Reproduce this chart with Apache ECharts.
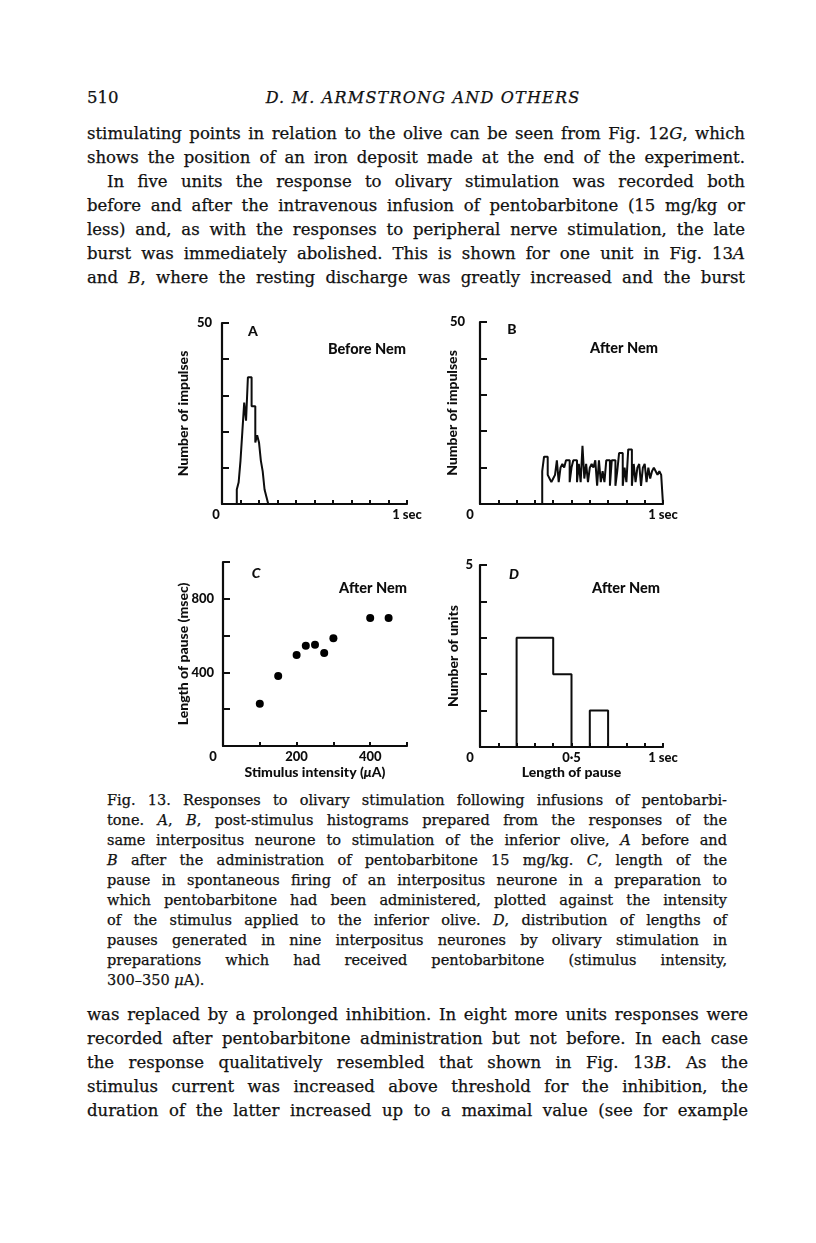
<!DOCTYPE html>
<html>
<head>
<meta charset="utf-8">
<script src="https://cdn.jsdelivr.net/npm/echarts@6/dist/echarts.min.js"></script>
<style>
  html, body { margin: 0; padding: 0; background: #fff; }
  #page { position: relative; width: 816px; height: 1243px; overflow: hidden; color: #111; font-family: "DejaVu Serif", serif; -webkit-text-stroke: 0.25px #111; }
  .blk { position: absolute; }
  .ln { white-space: nowrap; text-align: justify; text-align-last: justify; }
  .ln.last { text-align-last: left; }
  .body .ln { font-size: 16.5px; line-height: 24px; height: 24px; }
  .cap .ln { font-size: 14.5px; line-height: 20px; height: 20px; }
  .panel { position: absolute; }
</style>
</head>
<body>
<div id="page">
  <div class="blk" style="left:87px; top:86px; font-size:16.5px; line-height:24px;">510</div>
  <div class="blk" style="left:0; width:846px; top:86px; text-align:center; font-size:16px; line-height:24px; font-style:italic; letter-spacing:1.2px;">D. M. ARMSTRONG AND OTHERS</div>

  <div class="blk body" style="left:87px; top:122px; width:658px;">
    <div class="ln">stimulating points in relation to the olive can be seen from Fig. 12<i>G</i>, which</div>
    <div class="ln">shows the position of an iron deposit made at the end of the experiment.</div>
    <div class="ln" style="padding-left:20px;">In five units the response to olivary stimulation was recorded both</div>
    <div class="ln">before and after the intravenous infusion of pentobarbitone (15 mg/kg or</div>
    <div class="ln">less) and, as with the responses to peripheral nerve stimulation, the late</div>
    <div class="ln">burst was immediately abolished. This is shown for one unit in Fig. 13<i>A</i></div>
    <div class="ln">and <i>B</i>, where the resting discharge was greatly increased and the burst</div>
  </div>

  <div id="panelA" class="panel" style="left:160px; top:310px; width:265px; height:215px;"></div>
  <div id="panelB" class="panel" style="left:420px; top:310px; width:265px; height:215px;"></div>
  <div id="panelC" class="panel" style="left:160px; top:550px; width:265px; height:240px;"></div>
  <div id="panelD" class="panel" style="left:420px; top:550px; width:265px; height:240px;"></div>

  <div class="blk cap" style="left:107px; top:790px; width:620px;">
    <div class="ln">Fig. 13. Responses to olivary stimulation following infusions of pentobarbi-</div>
    <div class="ln">tone. <i>A</i>, <i>B</i>, post-stimulus histograms prepared from the responses of the</div>
    <div class="ln">same interpositus neurone to stimulation of the inferior olive, <i>A</i> before and</div>
    <div class="ln"><i>B</i> after the administration of pentobarbitone 15 mg/kg. <i>C</i>, length of the</div>
    <div class="ln">pause in spontaneous firing of an interpositus neurone in a preparation to</div>
    <div class="ln">which pentobarbitone had been administered, plotted against the intensity</div>
    <div class="ln">of the stimulus applied to the inferior olive. <i>D</i>, distribution of lengths of</div>
    <div class="ln">pauses generated in nine interpositus neurones by olivary stimulation in</div>
    <div class="ln">preparations which had received pentobarbitone (stimulus intensity,</div>
    <div class="ln last">300–350 <i>μ</i>A).</div>
  </div>

  <div class="blk body" style="left:87px; top:1003px; width:661px;">
    <div class="ln">was replaced by a prolonged inhibition. In eight more units responses were</div>
    <div class="ln">recorded after pentobarbitone administration but not before. In each case</div>
    <div class="ln">the response qualitatively resembled that shown in Fig. 13<i>B</i>. As the</div>
    <div class="ln">stimulus current was increased above threshold for the inhibition, the</div>
    <div class="ln">duration of the latter increased up to a maximal value (see for example</div>
  </div>
</div>

<script>
// post-stimulus histograms, 10 msec bins
var binSec = 0.01;
var beforeStartSec = 0.08;
var beforeCounts = [4, 6, 12, 20, 28, 23, 35, 35, 27, 27, 17, 19, 17, 12, 9, 4, 2];
var afterStartSec = 0.34;
var afterCounts = [
  9, 13, 13, 8, 7, 6, 7, 8, 12, 6,
  10, 11, 10, 12, 12, 6, 10, 12, 12, 6,
  11, 6, 16, 7, 11, 6, 10, 11, 10, 12,
  5, 12, 6, 9, 6, 12, 12, 5, 12, 12,
  5, 9, 14, 14, 5, 10, 6, 15, 15, 5,
  11, 6, 10, 11, 5, 10, 11, 6, 10, 7,
  9, 10, 9, 8, 9, 8
];

// C: pause length vs stimulus intensity
var stimulusUA = [100, 150, 200, 225, 250, 275, 300, 400, 450];
var pauseMsec = [230, 380, 495, 545, 550, 505, 585, 695, 695];

// D: distribution of pause lengths, 0.1 sec bins
var pauseBinSec = 0.1;
var pauseStartSec = 0.2;
var unitCounts = [3, 3, 2, 0, 1];

// tick labels that are printed (all other ticks are bare)
var secTickValues = [0, 1];
var secTickText = ['0', '1 sec'];
var pauseTickValues = [0, 0.5, 1];
var pauseTickText = ['0', '0·5', '1 sec'];
var stimTickValues = [0, 200, 400];
var stimTickText = ['0', '200', '400'];
var impulseTickValues = [50];
var pauseMsecTickValues = [400, 800];
var unitTickValues = [5];

(function () {
  'use strict';

  var INK = '#0d0d0d';
  var FONT = 'Lato, "Open Sans", sans-serif';

  function stepPoints(start, width, counts) {
    var pts = [[start, 0]];
    counts.forEach(function (c, i) { pts.push([start + i * width, c]); });
    pts.push([start + counts.length * width, 0]);
    return pts;
  }

  function near(a, b) { return Math.abs(a - b) < 1e-6; }

  function tickFormatter(values, texts) {
    return function (v) {
      for (var i = 0; i < values.length; i++) {
        if (near(v, values[i])) {
          var t = texts ? texts[i] : String(values[i]);
          return near(v, 0) ? '{z|' + t + '}' : t;
        }
      }
      return '';
    };
  }

  function xAxisFor(cfg) {
    return {
      type: 'value',
      min: 0,
      max: cfg.xMax,
      interval: cfg.xStep,
      name: cfg.xName || '',
      nameLocation: 'middle',
      nameGap: cfg.xNameGap || 18,
      nameMoveOverlap: false,
      nameTextStyle: { color: INK, fontFamily: FONT, fontWeight: 900, fontSize: 14,
        rich: { i: { fontStyle: 'italic', color: INK, fontFamily: FONT, fontWeight: 900, fontSize: 14 } } },
      axisLine: { show: true, onZero: false, lineStyle: { color: INK, width: 2.2 } },
      axisTick: { show: true, inside: true, length: 4, lineStyle: { color: INK, width: 2 } },
      splitLine: { show: false },
      axisLabel: {
        show: true,
        margin: 4,
        showMinLabel: true,
        showMaxLabel: true,
        hideOverlap: false,
        color: INK,
        fontFamily: FONT,
        fontWeight: 900,
        fontSize: 13,
        formatter: tickFormatter(cfg.xTicks, cfg.xTickText),
        rich: { z: { padding: [0, cfg.zeroShift * 2, 0, 0], color: INK, fontFamily: FONT, fontWeight: 900, fontSize: 13 } }
      }
    };
  }

  function yAxisFor(cfg) {
    return {
      type: 'value',
      min: 0,
      max: cfg.yMax,
      interval: cfg.yStep,
      name: cfg.yName,
      nameLocation: 'middle',
      nameRotate: 90,
      nameGap: cfg.yNameGap,
      nameMoveOverlap: false,
      nameTextStyle: { color: INK, fontFamily: FONT, fontWeight: 900, fontSize: 14 },
      axisLine: { show: true, onZero: false, lineStyle: { color: INK, width: 2.2 } },
      axisTick: { show: true, inside: true, length: 7, lineStyle: { color: INK, width: 2 } },
      splitLine: { show: false },
      axisLabel: {
        show: true,
        margin: cfg.yLabelMargin,
        showMinLabel: true,
        showMaxLabel: true,
        color: INK,
        fontFamily: FONT,
        fontWeight: 900,
        fontSize: 13,
        formatter: function (v) {
          return cfg.yTicks.some(function (t) { return near(v, t); }) ? String(v) : '';
        }
      }
    };
  }

  function panelText(cfg) {
    return [
      {
        type: 'text', x: cfg.letterAt[0], y: cfg.letterAt[1],
        style: { text: cfg.letter, fill: INK, align: 'center', verticalAlign: 'middle',
          font: (cfg.letterItalic ? 'italic ' : '') + '900 14px ' + FONT }
      },
      {
        type: 'text', x: cfg.tagAt[0], y: cfg.tagAt[1],
        style: { text: cfg.tag, fill: INK, align: 'center', verticalAlign: 'middle',
          font: '900 14.5px ' + FONT }
      }
    ];
  }

  /* ── Step-outline histogram (A, B, D) ── */
  function initHistogram(el, cfg) {
    if (!el || !window.echarts) { return; }
    var chart = echarts.init(el);
    chart.setOption({
      animation: false,
      grid: cfg.grid,
      xAxis: xAxisFor(cfg),
      yAxis: yAxisFor(cfg),
      graphic: panelText(cfg),
      series: [{
        type: 'line',
        step: 'end',
        showSymbol: false,
        data: stepPoints(cfg.start, cfg.binWidth, cfg.counts),
        lineStyle: { color: INK, width: 2 },
        z: 1
      }]
    });
  }

  /* ── Scatter: pause length against stimulus (C) ── */
  function initScatter(el, cfg) {
    if (!el || !window.echarts) { return; }
    var chart = echarts.init(el);
    chart.setOption({
      animation: false,
      grid: cfg.grid,
      xAxis: xAxisFor(cfg),
      yAxis: yAxisFor(cfg),
      graphic: panelText(cfg),
      series: [{
        type: 'scatter',
        symbol: 'circle',
        symbolSize: 8,
        itemStyle: { color: '#000', opacity: 1 },
        data: cfg.xs.map(function (x, i) { return [x, cfg.ys[i]]; })
      }]
    });
  }

  initHistogram(document.getElementById('panelA'), {
    grid: { left: 62, top: 13, width: 185, height: 181 },
    start: beforeStartSec, binWidth: binSec, counts: beforeCounts,
    xMax: 1, xStep: 0.1, xTicks: secTickValues, xTickText: secTickText, zeroShift: 6,
    yMax: 50, yStep: 10, yTicks: impulseTickValues, yLabelMargin: 10,
    yName: 'Number of impulses', yNameGap: 32,
    letter: 'A', letterAt: [93, 21], tag: 'Before Nem', tagAt: [207, 39]
  });

  initHistogram(document.getElementById('panelB'), {
    grid: { left: 60, top: 12, width: 183, height: 182 },
    start: afterStartSec, binWidth: binSec, counts: afterCounts,
    xMax: 1, xStep: 0.1, xTicks: secTickValues, xTickText: secTickText, zeroShift: 10,
    yMax: 50, yStep: 10, yTicks: impulseTickValues, yLabelMargin: 15,
    yName: 'Number of impulses', yNameGap: 21,
    letter: 'B', letterAt: [92, 19], tag: 'After Nem', tagAt: [204, 38]
  });

  initScatter(document.getElementById('panelC'), {
    grid: { left: 63, top: 12, width: 184, height: 184 },
    xs: stimulusUA, ys: pauseMsec,
    xMax: 500, xStep: 100, xTicks: stimTickValues, xTickText: stimTickText, zeroShift: 10,
    xName: 'Stimulus intensity ({i|μ}A)', xNameGap: 19,
    yMax: 1000, yStep: 200, yTicks: pauseMsecTickValues, yLabelMargin: 9,
    yName: 'Length of pause (msec)', yNameGap: 33,
    letter: 'C', letterItalic: true, letterAt: [96, 23], tag: 'After Nem', tagAt: [213, 38]
  });

  initHistogram(document.getElementById('panelD'), {
    grid: { left: 60, top: 15, width: 183, height: 182 },
    start: pauseStartSec, binWidth: pauseBinSec, counts: unitCounts,
    xMax: 1, xStep: 0.1, xTicks: pauseTickValues, xTickText: pauseTickText, zeroShift: 10,
    xName: 'Length of pause', xNameGap: 18,
    yMax: 5, yStep: 1, yTicks: unitTickValues, yLabelMargin: 7,
    yName: 'Number of units', yNameGap: 20,
    letter: 'D', letterItalic: true, letterAt: [94, 24], tag: 'After Nem', tagAt: [206, 38]
  });
})();
</script>
</body>
</html>
